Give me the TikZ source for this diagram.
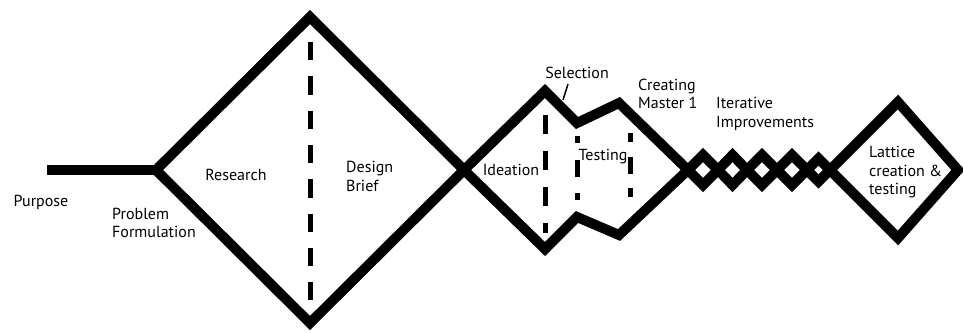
\documentclass[tikz,border=0pt]{standalone}
\usepackage{fontspec}
\setmainfont{PT Sans}
\begin{document}
\begin{tikzpicture}[x=1pt,y=-1pt,
  stroke/.style={line width=10pt, line join=miter, miter limit=10},
  dashln/.style={line width=5pt},
  tick/.style={line width=1.5pt},
  lbl/.style={font=\fontsize{16}{18.5}\selectfont, inner sep=0pt, align=left}]
\useasboundingbox (0,0) rectangle (963,332);
\fill[white] (0,0) rectangle (963,332);
% lead-in line and first diamond
\coordinate (p0) at (47,170);
\coordinate (dL) at (156,170);
\coordinate (dT) at (310,17);
\coordinate (dR) at (464,170);
\coordinate (dB) at (310,323);
\draw[stroke] (p0) -- (dL);
\draw[stroke] (dL) -- (dT) -- (dR) -- (dB) -- cycle;
\coordinate (dd1) at (310,42);
\coordinate (dd2) at (310,300.3);
\draw[dashln, dash pattern=on 18.3pt off 16pt] (dd1) -- (dd2);
% second shape
\coordinate (sT1) at (545,91);
\coordinate (sN1) at (577,123);
\coordinate (sT2) at (619,103);
\coordinate (sR) at (688,170);
\coordinate (sT3) at (619,235);
\coordinate (sN2) at (577,217);
\coordinate (sB1) at (545,249);
\draw[stroke] (dR) -- (sT1) -- (sN1) -- (sT2) -- (sR) -- (sT3) -- (sN2) -- (sB1) -- cycle;
\coordinate (a1) at (545,115);
\coordinate (a2) at (545,233);
\draw[dashln, dash pattern=on 19pt off 17pt] (a1) -- (a2);
\coordinate (b1) at (577,136);
\coordinate (b2) at (577,200);
\draw[dashln, dash pattern=on 7pt off 17pt on 17pt off 16pt on 7pt off 10pt] (b1) -- (b2);
\coordinate (c1) at (630,133);
\coordinate (c2) at (630,197);
\draw[dashln, dash pattern=on 9pt off 15pt on 17pt off 14pt on 9pt off 10pt] (c1) -- (c2);
% chain of small diamonds
\foreach \a/\b/\h in {688/718/15, 718/747/15, 747/777/15, 777/807/15, 807/830/11.5}
  \draw[stroke] (\a,170) -- ({(\a+\b)/2},{170-\h}) -- (\b,170) -- ({(\a+\b)/2},{170+\h}) -- cycle;
% lattice diamond
\coordinate (lL) at (830,170);
\coordinate (lT) at (898,102);
\coordinate (lR) at (958,170);
\coordinate (lB) at (898,238);
\draw[stroke] (lL) -- (lT) -- (lR) -- (lB) -- cycle;
% labels
\node[lbl] (purpose) at (41,202) {Purpose};
\node[lbl, anchor=west] (problem) at (112,223) {Problem\\Formulation};
\node[lbl] (research) at (236,175) {Research};
\node[lbl, anchor=west] (brief) at (346,176.5) {Design\\Brief};
\node[lbl] (ideation) at (511,170) {Ideation};
\node[lbl] (selection) at (577,73) {Selection};
\coordinate (t1) at (568,84);
\coordinate (t2) at (563,100);
\draw[tick] (t1) -- (t2);
\node[lbl] (testing) at (603,157) {Testing};
\node[lbl, anchor=west] (master) at (638,94) {Creating\\Master 1};
\node[lbl, anchor=west] (iter) at (716,114) {Iterative\\Improvements};
\node[lbl, anchor=west] (lattice) at (869,172.5) {Lattice\\creation \&\\testing};
\end{tikzpicture}
\end{document}
